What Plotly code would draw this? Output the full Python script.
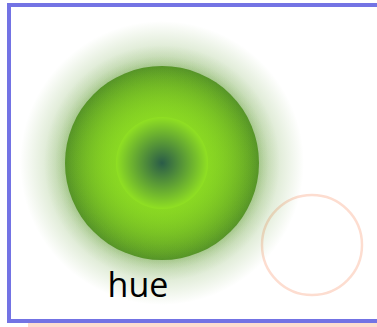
import plotly.graph_objects as go

# canvas in pixels, y grows downwards
canvas_w = 377
canvas_h = 327

# the shaded disc
disc_x = [162]
disc_y = [163]
# the empty ring
ring_x = [312]
ring_y = [245]
# the label
label_x = [138]
label_y = [288]
label_text = ['hue']

GREEN_DARK = 'rgb(86,148,40)'
GREEN_BRIGHT = 'rgb(144,224,34)'
TEAL = 'rgb(42,92,72)'
PINK = 'rgb(253,221,208)'
FRAME = 'rgb(115,115,228)'


def add_disc_layer(fig, size, edge, center):
    '''
        Adds one layer of the disc: a marker with a radial gradient
        going from the center colour to the edge colour.
    '''
    fig.add_trace(go.Scatter(
        x=disc_x, y=disc_y, mode='markers', hoverinfo='skip',
        marker=dict(size=size, color=edge, line=dict(width=0),
                    gradient=dict(type='radial', color=center))
    ))


def frame_line(x0, y0, x1, y1):
    '''
        One side of the frame; the right side runs off the page.
    '''
    return dict(type='line', xref='x', yref='y', layer='above',
                x0=x0, y0=y0, x1=x1, y1=y1,
                line=dict(color=FRAME, width=4))


fig = go.Figure()

# empty ring, sits under the halo
fig.add_trace(go.Scatter(
    x=ring_x, y=ring_y, mode='markers', hoverinfo='skip',
    marker=dict(symbol='circle-open', size=100, color=PINK,
                line=dict(width=2.5, color=PINK))
))

# soft halo around the disc
for size in [284, 236, 214, 204]:
    add_disc_layer(fig, size, 'rgba(85,150,35,0)', 'rgba(85,150,35,1)')

# solid disc then a bright glow towards the middle
fig.add_trace(go.Scatter(
    x=disc_x, y=disc_y, mode='markers', hoverinfo='skip',
    marker=dict(size=194, color=GREEN_DARK, line=dict(width=0))
))
for i in range(3):
    add_disc_layer(fig, 194, 'rgba(144,224,34,0)', 'rgba(144,224,34,1)')

# dark core
add_disc_layer(fig, 92, GREEN_BRIGHT, TEAL)

fig.add_trace(go.Scatter(
    x=label_x, y=label_y, mode='text', text=label_text, hoverinfo='skip',
    textposition='middle center',
    textfont=dict(family='Open Sans', size=34, color='black')
))

fig.update_layout(
    width=canvas_w, height=canvas_h,
    margin=dict(l=0, r=0, t=0, b=0),
    paper_bgcolor='white', plot_bgcolor='white',
    showlegend=False,
    xaxis=dict(range=[0, canvas_w], visible=False, fixedrange=True),
    yaxis=dict(range=[canvas_h, 0], visible=False, fixedrange=True),
    shapes=[
        # pink band along the bottom
        dict(type='rect', xref='x', yref='y', layer='above',
             x0=28, x1=canvas_w, y0=323, y1=canvas_h,
             fillcolor=PINK, line=dict(width=0)),
        frame_line(7, 5, canvas_w, 5),
        frame_line(9, 3, 9, 323),
        frame_line(7, 321, canvas_w, 321),
    ]
)

fig.write_html('out.html', config={'displayModeBar': False},
               post_script="document.body.style.margin='0';"
                           "document.body.style.overflow='hidden';"
                           "document.documentElement.style.overflow='hidden';")
